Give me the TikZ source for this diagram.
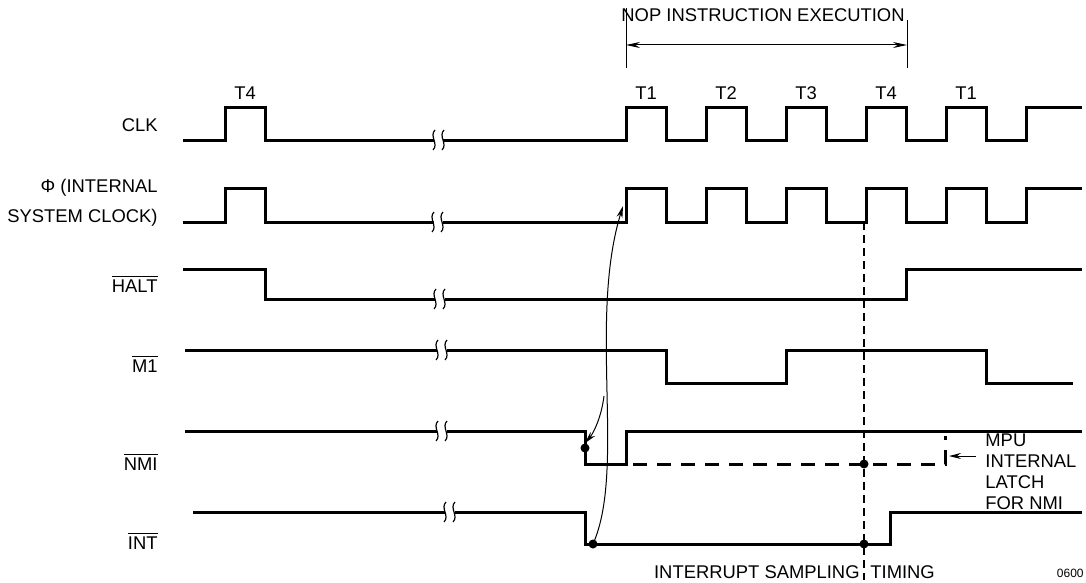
\documentclass[tikz,border=0pt]{standalone}
\usepackage{fontspec}
\setmainfont{Liberation Sans}
\usetikzlibrary{arrows.meta}

\newcommand{\ovl}[1]{$\overline{\mbox{#1}}$}

\begin{document}
\begin{tikzpicture}[x=0.5pt,y=-0.5pt,
  sig/.style={line width=1.5pt},
  latch/.style={line width=1.5pt,dash pattern=on 7pt off 5pt},
  samp/.style={line width=0.7pt,dash pattern=on 4pt off 2.5pt},
  wire/.style={line width=0.5pt},
  lbl/.style={font=\fontsize{9.2}{11}\selectfont,inner sep=0pt},
  dot/.style={circle,fill,inner sep=0pt,minimum size=4.5pt}]
  \useasboundingbox (0,0) rectangle (1086,583);

  % signal names
  \node[lbl,anchor=east] (clk) at (158,125) {CLK};
  \node[lbl,anchor=east] (phia) at (158,188) {Φ (INTERNAL};
  \node[lbl,anchor=east] (phib) at (158,218) {SYSTEM CLOCK)};
  \node[lbl,anchor=east] (halt) at (158,284) {\ovl{HALT}};
  \node[lbl,anchor=east] (mone) at (158,364) {\ovl{M1}};
  \node[lbl,anchor=east] (nmi) at (158,462) {\ovl{NMI}};
  \node[lbl,anchor=east] (int) at (158,541) {\ovl{INT}};

  % state labels
  \node[lbl] (tfour) at (245,93) {T4};
  \foreach \t/\x in {1/646,2/726,3/806,4/886,1/966}
    \node[lbl] (t\x) at (\x,93) {T\t};

  % NOP span
  \node[lbl] (nop) at (763,15) {NOP INSTRUCTION EXECUTION};
  \coordinate (nopL) at (626,45);
  \coordinate (nopR) at (907,45);
  \draw[wire] (626,8) -- (626,68);
  \draw[wire] (907,20) -- (907,68);
  \draw[wire,{Stealth[length=7pt,width=3pt]}-{Stealth[length=7pt,width=3pt]}] (nopL) -- (nopR);

  % CLK and internal clock
  \foreach \lo/\hi in {140/108,222/188}{
    \draw[sig] (183,\lo) -- (225,\lo) -- (225,\hi) -- (265,\hi) -- (265,\lo) -- (434,\lo);
    \draw[sig] (443,\lo) -- (626,\lo)
      -- (626,\hi) -- (666,\hi) -- (666,\lo) -- (706,\lo)
      -- (706,\hi) -- (746,\hi) -- (746,\lo) -- (786,\lo)
      -- (786,\hi) -- (826,\hi) -- (826,\lo) -- (866,\lo)
      -- (866,\hi) -- (906,\hi) -- (906,\lo) -- (946,\lo)
      -- (946,\hi) -- (986,\hi) -- (986,\lo) -- (1026,\lo)
      -- (1026,\hi) -- (1082,\hi);
  }

  % HALT
  \draw[sig] (183,269) -- (265,269) -- (265,299) -- (435,299);
  \draw[sig] (445,299) -- (906,299) -- (906,269) -- (1082,269);

  % M1
  \draw[sig] (185,350) -- (437,350);
  \draw[sig] (447,350) -- (666,350) -- (666,383) -- (786,383) -- (786,350)
    -- (986,350) -- (986,383) -- (1073,383);

  % NMI
  \draw[sig] (185,431) -- (437,431);
  \draw[sig] (447,431) -- (585,431) -- (585,464) -- (626,464) -- (626,431) -- (1082,431);
  \draw[latch] (633,464) -- (945,464) -- (945,436);

  % INT
  \draw[sig] (193,512) -- (445,512);
  \draw[sig] (455,512) -- (585,512) -- (585,544) -- (890,544) -- (890,512) -- (1082,512);

  % breaks
  \foreach \bx/\by in {434/140,433/222,435/299,437/350,437/431,445/512}
    \foreach \dx in {0,9}
      \draw[line width=0.6pt] ({\bx+\dx+1},{\by-10}) .. controls ({\bx+\dx-5},{\by-4}) and ({\bx+\dx+5},{\by+4}) .. ({\bx+\dx-1},{\by+10});

  % sampling points
  \node[dot] (nmiedge) at (585,448) {};
  \node[dot] (intlow) at (593,544) {};
  \node[dot] (nmisamp) at (864,464) {};
  \node[dot] (intsamp) at (864,544) {};
  \coordinate (phiedge) at (623,206);
  \coordinate (split) at (604,396);
  \draw[samp] (864,222) -- (864,580);

  % relations
  \draw[wire,-{Stealth[length=6pt,width=3pt]}] (intlow.center) .. controls (626,470) and (588,320) .. (phiedge);
  \draw[wire,-{Stealth[length=6pt,width=3pt]}] (split) .. controls (601,420) and (592,435) .. (nmiedge.north);

  % latch note
  \coordinate (latchpt) at (949,456);
  \coordinate (latchtail) at (976,456);
  \draw[wire,-{Stealth[length=6pt,width=3pt]}] (latchtail) -- (latchpt);
  \node[lbl,anchor=west] (mpu) at (985,440) {MPU};
  \node[lbl,anchor=west] (inl) at (985,461) {INTERNAL};
  \node[lbl,anchor=west] (lat) at (985,482) {LATCH};
  \node[lbl,anchor=west] (fnm) at (985,503) {FOR NMI};

  \node[lbl,anchor=east] (samptxt) at (860,572) {INTERRUPT SAMPLING};
  \node[lbl,anchor=west] (timtxt) at (870,572) {TIMING};
  \node[font=\fontsize{6}{7}\selectfont,inner sep=0pt,anchor=east] (fig) at (1084,573) {0600};
\end{tikzpicture}
\end{document}
